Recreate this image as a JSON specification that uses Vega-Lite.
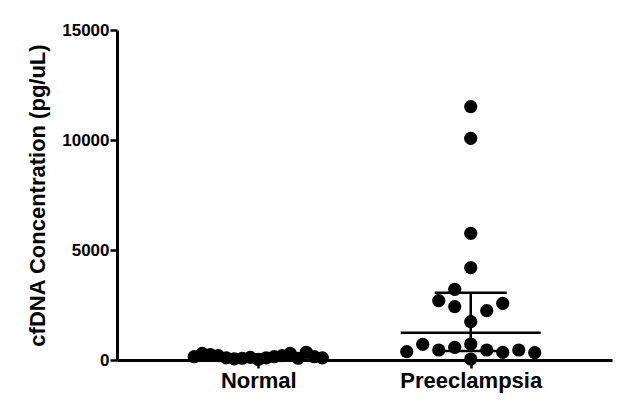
{
  "$schema": "https://vega.github.io/schema/vega-lite/v6.json",
  "width": 495,
  "height": 330,
  "autosize": {"type": "none"},
  "padding": {"left": 117, "top": 30, "right": 13, "bottom": 48},
  "background": "white",
  "config": {
    "view": {"stroke": null},
    "font": "Liberation Sans"
  },
  "datasets": {
    "points": [
      {"group": "Normal", "col": -4, "value": 150},
      {"group": "Normal", "col": -3.5, "value": 300},
      {"group": "Normal", "col": -3, "value": 250},
      {"group": "Normal", "col": -2.5, "value": 200},
      {"group": "Normal", "col": -2, "value": 100},
      {"group": "Normal", "col": -1.5, "value": 50},
      {"group": "Normal", "col": -1, "value": 80},
      {"group": "Normal", "col": -0.5, "value": 120},
      {"group": "Normal", "col": 0, "value": 30},
      {"group": "Normal", "col": 0.5, "value": 100},
      {"group": "Normal", "col": 1, "value": 150},
      {"group": "Normal", "col": 1.5, "value": 200},
      {"group": "Normal", "col": 2, "value": 300},
      {"group": "Normal", "col": 2.5, "value": 80},
      {"group": "Normal", "col": 3, "value": 350},
      {"group": "Normal", "col": 3.5, "value": 150},
      {"group": "Normal", "col": 4, "value": 100},
      {"group": "Preeclampsia", "col": 0, "value": 11515},
      {"group": "Preeclampsia", "col": 0, "value": 10076},
      {"group": "Preeclampsia", "col": 0, "value": 5758},
      {"group": "Preeclampsia", "col": 0, "value": 4197},
      {"group": "Preeclampsia", "col": -1, "value": 3212},
      {"group": "Preeclampsia", "col": -2, "value": 2697},
      {"group": "Preeclampsia", "col": -1, "value": 2424},
      {"group": "Preeclampsia", "col": 1, "value": 2242},
      {"group": "Preeclampsia", "col": 2, "value": 2576},
      {"group": "Preeclampsia", "col": 0, "value": 1742},
      {"group": "Preeclampsia", "col": -4, "value": 379},
      {"group": "Preeclampsia", "col": -3, "value": 712},
      {"group": "Preeclampsia", "col": -2, "value": 455},
      {"group": "Preeclampsia", "col": -1, "value": 576},
      {"group": "Preeclampsia", "col": 0, "value": 727},
      {"group": "Preeclampsia", "col": 1, "value": 455},
      {"group": "Preeclampsia", "col": 2, "value": 348},
      {"group": "Preeclampsia", "col": 3, "value": 455},
      {"group": "Preeclampsia", "col": 4, "value": 333},
      {"group": "Preeclampsia", "col": 0, "value": 45}
    ],
    "summary": [
      {"group": "Normal", "q1": 90, "median": 150, "q3": 250},
      {"group": "Preeclampsia", "q1": 410, "median": 1242, "q3": 3060}
    ]
  },
  "encoding": {
    "x": {
      "field": "group",
      "type": "nominal",
      "scale": {"type": "point", "padding": 0.665},
      "axis": {
        "title": null,
        "labelAngle": 0,
        "labelFont": "Liberation Sans",
        "labelFontWeight": "bold",
        "labelFontSize": 22,
        "labelColor": "black",
        "tickSize": 8,
        "tickWidth": 2.5,
        "tickColor": "black",
        "domainColor": "black",
        "domainWidth": 3,
        "labelPadding": 2,
        "grid": false
      }
    }
  },
  "layer": [
    {
      "data": {"name": "summary"},
      "mark": {"type": "rule", "color": "black", "strokeWidth": 2.5, "opacity": 1},
      "encoding": {
        "y": {"field": "q1", "type": "quantitative"},
        "y2": {"field": "q3"}
      }
    },
    {
      "data": {"name": "summary"},
      "mark": {"type": "tick", "color": "black", "size": 140, "thickness": 2.5, "opacity": 1},
      "encoding": {"y": {"field": "median", "type": "quantitative"}}
    },
    {
      "data": {"name": "summary"},
      "mark": {"type": "tick", "color": "black", "size": 72, "thickness": 2.5, "opacity": 1},
      "encoding": {"y": {"field": "q1", "type": "quantitative"}}
    },
    {
      "data": {"name": "summary"},
      "mark": {"type": "tick", "color": "black", "size": 72, "thickness": 2.5, "opacity": 1},
      "encoding": {"y": {"field": "q3", "type": "quantitative"}}
    },
    {
      "data": {"name": "points"},
      "mark": {"type": "circle", "color": "black", "opacity": 1, "size": 175},
      "encoding": {
        "xOffset": {"field": "col", "type": "quantitative", "scale": {"domain": [-4, 4], "range": [-64, 64]}},
        "y": {
          "field": "value",
          "type": "quantitative",
          "scale": {"domain": [0, 15000], "nice": false},
          "axis": {
            "title": "cfDNA Concentration (pg/uL)",
            "values": [0, 5000, 10000, 15000],
            "format": "d",
            "grid": false,
            "labelFont": "Liberation Sans",
            "labelFontWeight": "bold",
            "labelFontSize": 17,
            "labelColor": "black",
            "titleFont": "Liberation Sans",
            "titleFontWeight": "bold",
            "titleFontSize": 22,
            "titleColor": "black",
            "domainColor": "black",
            "domainWidth": 3,
            "tickColor": "black",
            "tickWidth": 2.5,
            "tickSize": 7,
            "labelPadding": 1,
            "titlePadding": 12
          }
        }
      }
    }
  ]
}
